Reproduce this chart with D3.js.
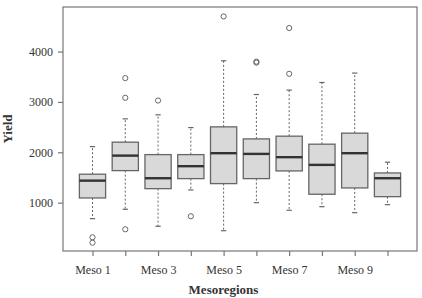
<!DOCTYPE html>
<html>
<head>
<script src="https://d3js.org/d3.v7.min.js"></script>
<style>
  body { margin: 0; background: #fff; }
  text { font-family: "Liberation Serif", "DejaVu Serif", serif; fill: #333; }
</style>
</head>
<body>
<svg></svg>
<script>
var categories = ["Meso 1","Meso 2","Meso 3","Meso 4","Meso 5","Meso 6","Meso 7","Meso 8","Meso 9","Meso 10"];
var whiskerLow  = [682, 869, 531, 1252, 443, 1000, 849, 920, 801, 960];
var q1          = [1093, 1636, 1278, 1477, 1378, 1477, 1630, 1167, 1292, 1119];
var median      = [1437, 1934, 1485, 1724, 1982, 1968, 1903, 1750, 1982, 1485];
var q3          = [1565, 2201, 1954, 1954, 2505, 2266, 2320, 2161, 2380, 1590];
var whiskerHigh = [2113, 2664, 2744, 2491, 3817, 3147, 3235, 3386, 3573, 1803];
var outliers    = [[312, 205], [3473, 3082, 471], [3028], [730], [4698], [3780, 3800], [4467, 3559], [], [], []];
var yTicks = [1000, 2000, 3000, 4000];

var W = 422, H = 298;
var pLeft = 63, pRight = 417, pTop = 7, pBottom = 251;

var svg = d3.select("svg").attr("width", W).attr("height", H);

var x = d3.scaleLinear().domain([0.1, 10.9]).range([pLeft, pRight]);
var y = d3.scaleLinear().domain([40, 4885]).range([pBottom, pTop]);
var unit = x(2) - x(1);
var bw = unit * 0.8, cap = unit * 0.16;

// frame
svg.append("rect")
  .attr("x", pLeft).attr("y", pTop)
  .attr("width", pRight - pLeft).attr("height", pBottom - pTop)
  .attr("fill", "none").attr("stroke", "#777").attr("stroke-width", 1.2);

// y axis
var yaxis = svg.append("g")
  .attr("transform", "translate(" + pLeft + ",0)")
  .call(d3.axisLeft(y).tickValues(yTicks).tickSize(5).tickPadding(5).tickFormat(d3.format("d")));
yaxis.select(".domain").remove();
yaxis.selectAll("line").attr("stroke", "#777").attr("stroke-width", 1.2);
yaxis.selectAll("text").style("font-size", "12px").style("font-family", "Liberation Serif").attr("fill", "#333");

// x axis
var xaxis = svg.append("g")
  .attr("transform", "translate(0," + pBottom + ")")
  .call(d3.axisBottom(x).tickValues(d3.range(1, 11)).tickSize(5).tickPadding(9)
    .tickFormat(function(d) { return d % 2 == 1 ? categories[d - 1] : ""; }));
xaxis.select(".domain").remove();
xaxis.selectAll("line").attr("stroke", "#777").attr("stroke-width", 1.2);
xaxis.selectAll("text").style("font-size", "12px").style("font-family", "Liberation Serif").attr("fill", "#333");

var g = svg.selectAll(".box")
  .data(categories)
  .enter().append("g")
  .attr("class", "box");

// whiskers
g.append("line")
  .attr("x1", function(d, i) { return x(i + 1); })
  .attr("x2", function(d, i) { return x(i + 1); })
  .attr("y1", function(d, i) { return y(q3[i]); })
  .attr("y2", function(d, i) { return y(whiskerHigh[i]); })
  .attr("stroke", "#666").attr("stroke-dasharray", "2,2").attr("stroke-width", 1);
g.append("line")
  .attr("x1", function(d, i) { return x(i + 1); })
  .attr("x2", function(d, i) { return x(i + 1); })
  .attr("y1", function(d, i) { return y(q1[i]); })
  .attr("y2", function(d, i) { return y(whiskerLow[i]); })
  .attr("stroke", "#666").attr("stroke-dasharray", "2,2").attr("stroke-width", 1);

// caps
[whiskerHigh, whiskerLow].forEach(function(arr) {
  g.append("line")
    .attr("x1", function(d, i) { return x(i + 1) - cap / 2; })
    .attr("x2", function(d, i) { return x(i + 1) + cap / 2; })
    .attr("y1", function(d, i) { return y(arr[i]); })
    .attr("y2", function(d, i) { return y(arr[i]); })
    .attr("stroke", "#666").attr("stroke-width", 1.2);
});

// boxes
g.append("rect")
  .attr("x", function(d, i) { return x(i + 1) - bw / 2; })
  .attr("width", bw)
  .attr("y", function(d, i) { return y(q3[i]); })
  .attr("height", function(d, i) { return y(q1[i]) - y(q3[i]); })
  .attr("fill", "#d9d9d9").attr("stroke", "#666").attr("stroke-width", 1.3);

// median
g.append("line")
  .attr("x1", function(d, i) { return x(i + 1) - bw / 2; })
  .attr("x2", function(d, i) { return x(i + 1) + bw / 2; })
  .attr("y1", function(d, i) { return y(median[i]); })
  .attr("y2", function(d, i) { return y(median[i]); })
  .attr("stroke", "#333").attr("stroke-width", 2.4);

// outliers
g.each(function(d, i) {
  d3.select(this).selectAll("circle")
    .data(outliers[i])
    .enter().append("circle")
    .attr("cx", x(i + 1))
    .attr("cy", function(v) { return y(v); })
    .attr("r", 2.6)
    .attr("fill", "none").attr("stroke", "#666").attr("stroke-width", 1);
});

// axis titles
svg.append("text")
  .attr("x", 223.5).attr("y", 294)
  .attr("text-anchor", "middle")
  .style("font-size", "13px").style("font-weight", "bold")
  .text("Mesoregions");
svg.append("text")
  .attr("transform", "translate(12," + ((pTop + pBottom) / 2) + ") rotate(-90)")
  .attr("text-anchor", "middle")
  .style("font-size", "13px").style("font-weight", "bold")
  .text("Yield");
</script>
</body>
</html>
